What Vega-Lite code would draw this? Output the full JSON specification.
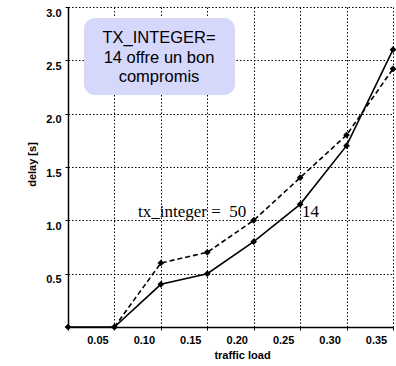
{
  "$schema": "https://vega.github.io/schema/vega-lite/v6.json",
  "width": 325,
  "height": 320,
  "autosize": "none",
  "padding": {"left": 68, "top": 7, "right": 3, "bottom": 39},
  "background": "white",
  "config": {
    "view": {"stroke": null},
    "axis": {"grid": true, "gridColor": "#000000", "gridOpacity": 1, "gridWidth": 1, "gridDash": [1.5, 2]}
  },
  "datasets": {
    "series": [
      {"x": 0.0, "y": 0.0, "series": "14"},
      {"x": 0.05, "y": 0.0, "series": "14"},
      {"x": 0.10, "y": 0.4, "series": "14"},
      {"x": 0.15, "y": 0.5, "series": "14"},
      {"x": 0.20, "y": 0.8, "series": "14"},
      {"x": 0.25, "y": 1.15, "series": "14"},
      {"x": 0.30, "y": 1.7, "series": "14"},
      {"x": 0.35, "y": 2.6, "series": "14"},
      {"x": 0.05, "y": 0.0, "series": "50"},
      {"x": 0.10, "y": 0.6, "series": "50"},
      {"x": 0.15, "y": 0.7, "series": "50"},
      {"x": 0.20, "y": 1.0, "series": "50"},
      {"x": 0.25, "y": 1.4, "series": "50"},
      {"x": 0.30, "y": 1.8, "series": "50"},
      {"x": 0.35, "y": 2.42, "series": "50"}
    ],
    "labels": [
      {"x": 0.0754, "y": 1.078, "text": "tx_integer =\u00a0 50"},
      {"x": 0.252, "y": 1.078, "text": "14"}
    ],
    "box": [
      {"x": 0.0172, "x2": 0.1798, "y": 2.897, "y2": 2.175}
    ],
    "boxtext": [
      {"x": 0.098, "y": 2.71, "text": "TX_INTEGER="},
      {"x": 0.098, "y": 2.525, "text": "14 offre un bon"},
      {"x": 0.098, "y": 2.34, "text": "compromis"}
    ]
  },
  "encoding": {
    "x": {
      "field": "x", "type": "quantitative",
      "scale": {"domain": [0, 0.35], "nice": false, "zero": false},
      "axis": {
        "values": [0, 0.05, 0.10, 0.15, 0.20, 0.25, 0.30, 0.35],
        "labelExpr": "datum.value == 0 ? '' : format(datum.value, '.2f')",
        "labelOffset": -17,
        "labelFlush": false,
        "labelOverlap": false,
        "labelPadding": 4,
        "grid": true,
        "domainColor": "black",
        "domainWidth": 1.5,
        "tickColor": "black",
        "tickSize": 3,
        "labelFont": "Liberation Sans",
        "labelFontWeight": "bold",
        "labelFontSize": 11,
        "labelColor": "black",
        "titleFont": "Liberation Sans",
        "titleFontWeight": "bold",
        "titleFontSize": 11,
        "titleColor": "black",
        "title": "traffic load",
        "titleX": 174,
        "titleY": 28,
        "titleBaseline": "middle"
      }
    },
    "y": {
      "field": "y", "type": "quantitative",
      "scale": {"domain": [0, 3], "nice": false},
      "axis": {
        "values": [0, 0.5, 1.0, 1.5, 2.0, 2.5, 3.0],
        "labelExpr": "datum.value == 0 ? '' : format(datum.value, '.1f')",
        "labelOffset": 6,
        "labelFlush": false,
        "labelOverlap": false,
        "labelPadding": 4,
        "grid": true,
        "domainColor": "black",
        "domainWidth": 1.5,
        "tickColor": "black",
        "tickSize": 3,
        "labelFont": "Liberation Sans",
        "labelFontWeight": "bold",
        "labelFontSize": 11,
        "labelColor": "black",
        "titleFont": "Liberation Sans",
        "titleFontWeight": "bold",
        "titleFontSize": 11,
        "titleColor": "black",
        "title": "delay [s]",
        "titleX": -36,
        "titleY": 157,
        "titleAngle": 270,
        "titleBaseline": "middle",
        "titleAlign": "center"
      }
    }
  },
  "layer": [
    {
      "data": {"name": "box"},
      "mark": {"type": "rect", "fill": "#d5d7fb", "cornerRadius": 11},
      "encoding": {
        "x2": {"field": "x2"},
        "y2": {"field": "y2"}
      }
    },
    {
      "data": {"name": "boxtext"},
      "mark": {"type": "text", "font": "Liberation Sans", "fontSize": 16.5, "align": "center", "baseline": "middle", "color": "black"},
      "encoding": {
        "text": {"field": "text"}
      }
    },
    {
      "data": {"name": "series"},
      "transform": [{"filter": "datum.series == '14'"}],
      "mark": {"type": "line", "color": "black", "strokeWidth": 1.6},
      "encoding": {}
    },
    {
      "data": {"name": "series"},
      "transform": [{"filter": "datum.series == '50'"}],
      "mark": {"type": "line", "color": "black", "strokeWidth": 1.6, "strokeDash": [5, 3]},
      "encoding": {}
    },
    {
      "data": {"name": "series"},
      "mark": {"type": "point", "shape": "diamond", "filled": true, "color": "black", "size": 45, "opacity": 1},
      "encoding": {}
    },
    {
      "data": {"name": "labels"},
      "mark": {"type": "text", "font": "Liberation Serif", "fontSize": 17, "align": "left", "baseline": "middle", "color": "black"},
      "encoding": {
        "text": {"field": "text"}
      }
    }
  ]
}
